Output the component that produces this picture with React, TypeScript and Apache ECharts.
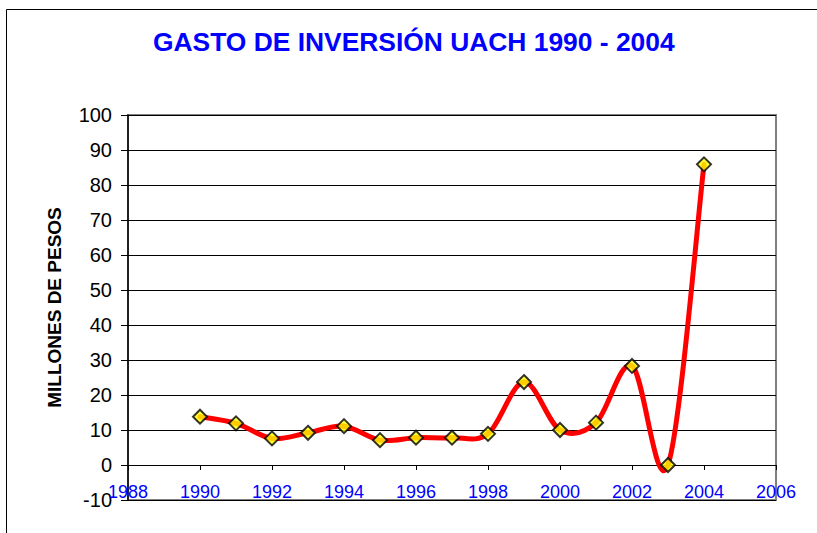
import React, { useEffect, useRef } from "react";
import * as echarts from "echarts";

const titleText = "GASTO DE INVERSIÓN UACH 1990 - 2004";
const yAxisTitle = "MILLONES DE PESOS";
const years = [1990, 1991, 1992, 1993, 1994, 1995, 1996, 1997, 1998, 1999, 2000, 2001, 2002, 2003, 2004];
const values = [13.8, 11.9, 7.6, 9.2, 11.1, 7.1, 7.8, 7.8, 8.9, 23.7, 10.0, 12.1, 28.3, 0.0, 85.9];
const xMin = 1988;
const xMax = 2006;
const xStep = 2;
const yMin = -10;
const yMax = 100;
const yStep = 10;

const FONT = "'Liberation Sans', Arial, sans-serif";
const GRID_TOP = 115;
const GRID_BOTTOM = 33;
const CHART_H = 533;

export default function App() {
  const ref = useRef<HTMLDivElement>(null);
  useEffect(() => {
    if (!ref.current) return;
    const chart = echarts.init(ref.current, null, { renderer: "svg" });
    const n = years.length;
    const pt = (api: any, k: number) => {
      const j = Math.max(0, Math.min(n - 1, k));
      return api.coord([years[j], values[j]]);
    };
    // distance of the zero line above the plot bottom (x axis crosses y = 0)
    const plotH = CHART_H - GRID_TOP - GRID_BOTTOM;
    const zeroOffset = (plotH * (0 - yMin)) / (yMax - yMin);
    chart.setOption({
      animation: false,
      backgroundColor: "#ffffff",
      title: {
        text: titleText,
        left: 153,
        top: 29,
        padding: 0,
        textStyle: { color: "#0000FF", fontSize: 26.4, fontWeight: "bold", fontFamily: FONT },
      },
      graphic: [
        {
          type: "rect",
          shape: { x: 6.5, y: 9.5, width: 1000, height: 1000 },
          style: { fill: "none", stroke: "#000000", lineWidth: 1 },
          silent: true,
        },
      ],
      grid: {
        left: 128,
        right: 41,
        top: GRID_TOP,
        bottom: GRID_BOTTOM,
        show: true,
        borderColor: "#808080",
        borderWidth: 2,
        backgroundColor: "transparent",
        outerBoundsMode: "none",
        containLabel: false,
      },
      xAxis: {
        type: "value",
        min: xMin,
        max: xMax,
        interval: xStep,
        offset: -zeroOffset,
        axisLine: { show: true, onZero: false, lineStyle: { color: "#000000", width: 1 } },
        axisTick: { show: true, inside: false, length: 5, lineStyle: { color: "#000000" } },
        axisLabel: {
          color: "#0000FF",
          fontSize: 18,
          fontFamily: FONT,
          margin: 18,
          showMinLabel: true,
          showMaxLabel: true,
          formatter: (v: number) => String(v),
        },
        splitLine: { show: false },
      },
      yAxis: {
        type: "value",
        min: yMin,
        max: yMax,
        interval: yStep,
        name: yAxisTitle,
        nameLocation: "middle",
        nameGap: 64,
        nameRotate: 90,
        nameTextStyle: { color: "#000000", fontSize: 19, fontWeight: "bold", fontFamily: FONT },
        axisLine: { show: true, onZero: false, lineStyle: { color: "#000000", width: 1.5 } },
        axisTick: { show: true, inside: false, length: 7, lineStyle: { color: "#000000" } },
        axisLabel: { color: "#000000", fontSize: 20, fontFamily: FONT, margin: 16, formatter: (v: number) => String(v) },
        splitLine: { show: true, lineStyle: { color: "#000000", width: 1 } },
      },
      series: [
        {
          type: "custom",
          coordinateSystem: "cartesian2d",
          data: years.map((y, i) => [y, values[i]]),
          z: 2,
          renderItem: (params: any, api: any) => {
            const i = params.dataIndex;
            if (i >= n - 1) return null;
            const p0 = pt(api, i - 1);
            const p1 = pt(api, i);
            const p2 = pt(api, i + 1);
            const p3 = pt(api, i + 2);
            return {
              type: "bezierCurve",
              shape: {
                x1: p1[0],
                y1: p1[1],
                x2: p2[0],
                y2: p2[1],
                cpx1: p1[0] + (p2[0] - p0[0]) / 6,
                cpy1: p1[1] + (p2[1] - p0[1]) / 6,
                cpx2: p2[0] - (p3[0] - p1[0]) / 6,
                cpy2: p2[1] - (p3[1] - p1[1]) / 6,
              },
              style: { fill: "none", stroke: "#FF0000", lineWidth: 5, lineCap: "round" },
            };
          },
        },
        {
          type: "scatter",
          data: years.map((y, i) => [y, values[i]]),
          symbol: "diamond",
          symbolSize: 14,
          z: 3,
          itemStyle: { color: "#FFFF00", borderColor: "#000000", borderWidth: 2 },
        },
      ],
    });
    return () => chart.dispose();
  }, []);
  return <div ref={ref} style={{ width: 817, height: 533, position: "absolute", left: 0, top: 0 }} />;
}
